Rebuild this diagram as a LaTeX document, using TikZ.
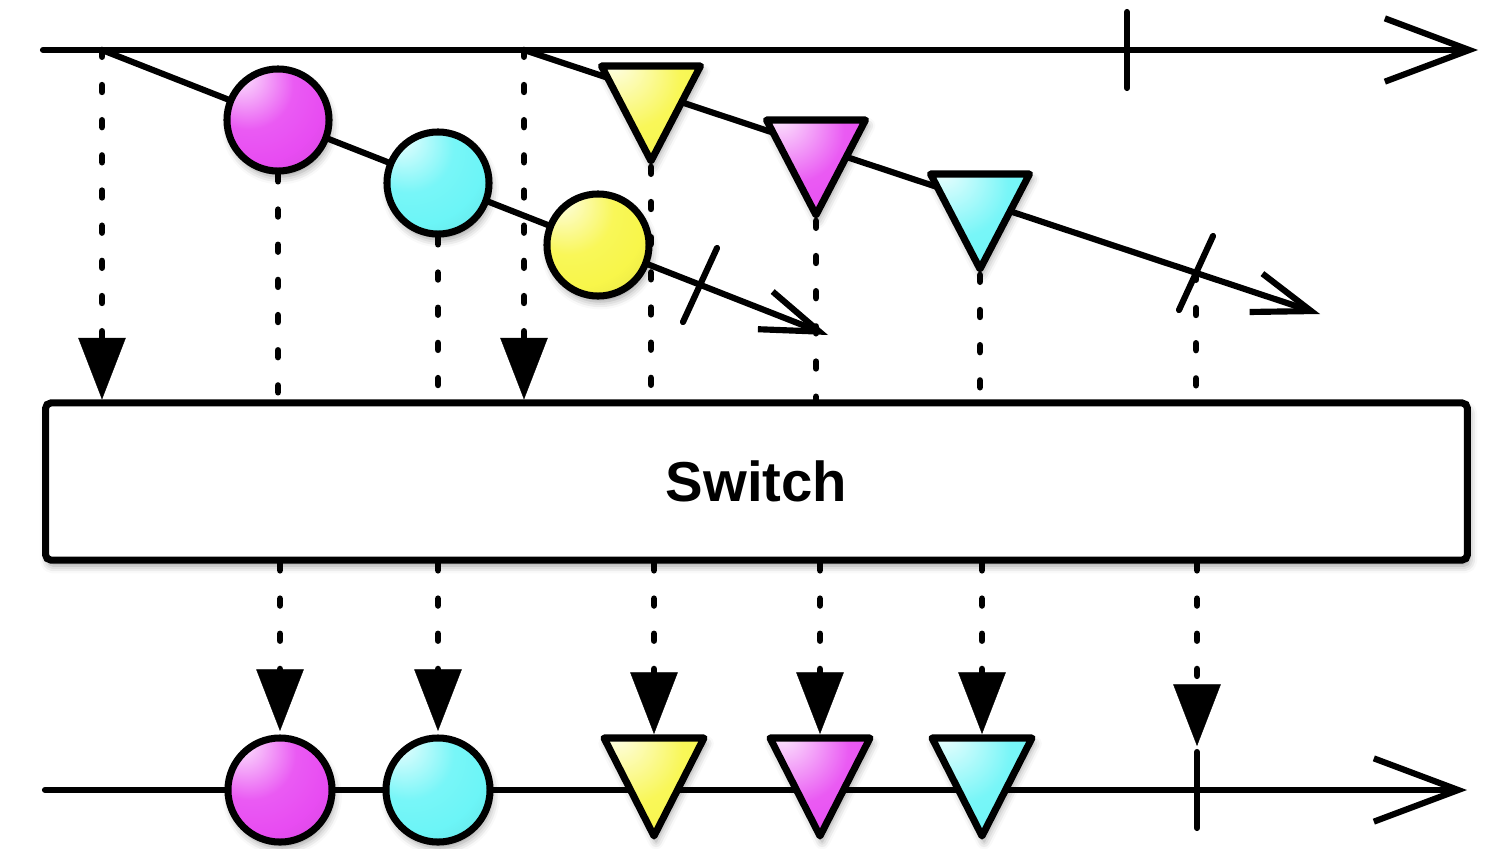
\documentclass[tikz,border=0pt]{standalone}
\usepackage{fontspec}
\setmainfont{Liberation Sans}
\usetikzlibrary{arrows.meta,calc,shadows.blur}
\definecolor{mmag}{HTML}{E84CF2}
\definecolor{mcyan}{HTML}{6CF5F7}
\definecolor{myel}{HTML}{F8F64A}
\colorlet{shc}{white}
\pgfdeclareradialshading[shc]{glossball}{\pgfpoint{-20bp}{24bp}}{color(0bp)=(shc!5!white); color(4bp)=(shc!25!white); color(22bp)=(shc!92!white); color(34bp)=(shc); color(58bp)=(shc!85!black); color(78bp)=(shc!50!black)}
\pgfdeclareradialshading[shc]{glosstri}{\pgfpoint{-20bp}{28bp}}{color(0bp)=(shc!5!white); color(5bp)=(shc!25!white); color(28bp)=(shc!92!white); color(45bp)=(shc); color(70bp)=(shc!92!black); color(90bp)=(shc!55!black)}
\tikzset{
  ln/.style={line width=1.75pt, line cap=round},
  bigarr/.style={-{Straight Barb[length=24pt,width=18pt]}},
  smarr/.style={-{Straight Barb[length=16.5pt,width=11.5pt]}},
  dl/.style={line width=1.9pt, line cap=round, dash pattern=on 1.9pt off 8.1pt},
  fillarr/.style={-{Triangle[length=17.5pt,width=13.5pt,fill=black,color=black,line width=0.1pt]}},
  shd/.style={blur shadow={shadow xshift=0.6pt, shadow yshift=-1.6pt, shadow blur radius=2.2pt, shadow opacity=40}},
  marble/.style={circle, draw, line width=2pt, minimum size=1.02cm, inner sep=0pt, shade, shading=glossball, /utils/exec={\colorlet{shc}{#1}}, shd},
  tri/.style={draw, line width=2pt, line join=round, shade, shading=glosstri, /utils/exec={\colorlet{shc}{#1}}, shd},
  switchbox/.style={draw, fill=white, line width=2pt, rounded corners=1.5pt, minimum width=14.21cm, minimum height=1.57cm, inner sep=0pt, font=\fontsize{16}{19}\selectfont\bfseries, shd},
}
\begin{document}
\begin{tikzpicture}[x=0.01cm,y=-0.01cm]
\useasboundingbox (0,0) rectangle (1500,848);
% coordinates
\coordinate (L0) at (43,50);
\coordinate (L1) at (1478,50);
\coordinate (s1) at (102,50);
\coordinate (s2) at (524,50);
\coordinate (e1) at (828,335);
\coordinate (e2) at (1320,314);
\coordinate (k0) at (1127,50);
\coordinate (k1) at (700,285);
\coordinate (k2) at (1196,273);
\coordinate (B0) at (45,790);
\coordinate (B1) at (1467,790);
\coordinate (k3) at (1197,790);
\coordinate (k3t) at (1197,746);
% time lines
\draw[ln,bigarr] (L0) -- (L1);
\draw[ln,bigarr] (B0) -- (B1);
\draw[ln,smarr] (s1) -- (e1);
\draw[ln,smarr] (s2) -- (e2);
% completion ticks
\draw[ln] (k0) ++(0,-38) -- ++(0,76);
\draw[ln] (k3) ++(0,-38) -- ++(0,76);
\draw[ln] (k1) ++(-17,37) -- ++(34,-74);
\draw[ln] (k2) ++(-17,37) -- ++(34,-74);
% operator box
\node[switchbox] (box) at (756.5,481.5) {Switch};
% marbles
\node[marble=mmag] (m1) at (278,120) {};
\node[marble=mcyan] (c1) at (438,183) {};
\node[marble=myel] (y1) at (598,245) {};
\node[marble=mmag, minimum size=1.04cm] (m2) at (280,790) {};
\node[marble=mcyan, minimum size=1.04cm] (c2) at (438,790) {};
% triangles (top)
\coordinate (ty1) at (651,66);
\coordinate (tm1) at (816,120);
\coordinate (tc1) at (980,174);
\draw[tri=myel] ($(ty1)+(-49.5,0)$) -- ++(99,0) -- ++(-49.5,95) coordinate (ay1) -- cycle;
\draw[tri=mmag] ($(tm1)+(-49.5,0)$) -- ++(99,0) -- ++(-49.5,95) coordinate (am1) -- cycle;
\draw[tri=mcyan] ($(tc1)+(-49.5,0)$) -- ++(99,0) -- ++(-49.5,95) coordinate (ac1) -- cycle;
% triangles (bottom)
\coordinate (ty2) at (654,738);
\coordinate (tm2) at (820,738);
\coordinate (tc2) at (982,738);
\draw[tri=myel] ($(ty2)+(-50,0)$) -- ++(100,0) -- ++(-50,98) -- cycle;
\draw[tri=mmag] ($(tm2)+(-50,0)$) -- ++(100,0) -- ++(-50,98) -- cycle;
\draw[tri=mcyan] ($(tc2)+(-50,0)$) -- ++(100,0) -- ++(-50,98) -- cycle;
\coordinate (dy1) at ($(ay1)+(0,6)$);
\coordinate (dm1) at ($(am1)+(0,6)$);
\coordinate (dc1) at ($(ac1)+(0,6)$);
\coordinate (ny2) at ($(ty2)+(0,-4)$);
\coordinate (nm2) at ($(tm2)+(0,-4)$);
\coordinate (nc2) at ($(tc2)+(0,-4)$);
% dashed connectors into the box
\draw[dl,fillarr] (s1) -- (s1 |- box.north);
\draw[dl] (m1.south) -- (m1.south |- box.north);
\draw[dl] (c1.south) -- (c1.south |- box.north);
\draw[dl,fillarr] (s2) -- (s2 |- box.north);
\draw[dl] (dy1) -- (dy1 |- box.north);
\draw[dl] (dm1) -- (dm1 |- box.north);
\draw[dl] (dc1) -- (dc1 |- box.north);
\draw[dl] (k2) -- (k2 |- box.north);
% dashed connectors out of the box
\draw[dl,fillarr,shorten >=1pt] (m2 |- box.south) -- (m2.north);
\draw[dl,fillarr,shorten >=1pt] (c2 |- box.south) -- (c2.north);
\draw[dl,fillarr] (ny2 |- box.south) -- (ny2);
\draw[dl,fillarr] (nm2 |- box.south) -- (nm2);
\draw[dl,fillarr] (nc2 |- box.south) -- (nc2);
\draw[dl,fillarr] (k3t |- box.south) -- (k3t);
\end{tikzpicture}
\end{document}
